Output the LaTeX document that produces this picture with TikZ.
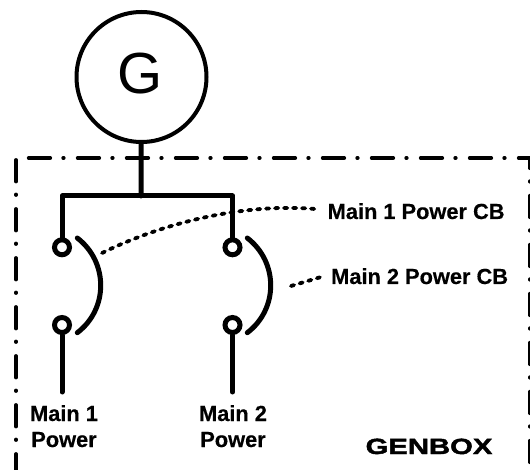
\documentclass[tikz,border=0pt]{standalone}
\usepackage{fontspec}
\setmainfont{Liberation Sans}[BoldFeatures={FakeBold=0.4}]
\newfontfamily\gbf[BoldFeatures={FakeStretch=1.33,FakeBold=2}]{Liberation Sans}
\tikzset{
  wire/.style={line width=5pt,line cap=round,line join=round},
  term/.style={circle,draw,line width=5pt,minimum size=15pt,inner sep=0pt,fill=white},
  leader/.style={line width=3.8pt,line cap=round,dash pattern=on 3.2pt off 5.8pt},
  lbl/.style={font=\fontsize{21.8}{26}\selectfont\bfseries,align=center,inner sep=0pt},
  gen/.style={circle,draw,line width=4pt,minimum size=130pt,inner sep=0pt},
  border/.style={line width=3.8pt,line cap=round,dash pattern=on 21.5pt off 13pt on 0.5pt off 14pt}
}
\begin{document}
\begin{tikzpicture}[x=1pt,y=-1pt]
\useasboundingbox (0,0) rectangle (530,470);
\coordinate (bL0) at (16,160);
\coordinate (bL1) at (16,470);
\coordinate (bT0) at (28.7,158);
\coordinate (bC) at (530,158);
\coordinate (bR1) at (530,470);
\draw[border] (bL0) -- (bL1);
\draw[border] (bT0) -- (bC) -- (bR1);
\node[gen] (G) at (141.5,77) {};
\node[inner sep=0pt,font=\fontsize{58}{58}\selectfont] (Gt) at (140.5,74) {G};
\coordinate (j) at (141,196);
\coordinate (l) at (62,196);
\coordinate (r) at (232.5,196);
\node[term] (a1) at (62,247.3) {};
\node[term] (a2) at (62,325) {};
\node[term] (b1) at (232.5,247.3) {};
\node[term] (b2) at (232.5,325) {};
\coordinate (ae) at (62,392);
\coordinate (be) at (232.5,392);
\draw[wire] (G) -- (j);
\draw[wire] (a1) -- (l) -- (r) -- (b1);
\draw[wire] (a2) -- (ae);
\draw[wire] (b2) -- (be);
\coordinate (s1a) at (77.3,238);
\coordinate (s1b) at (77.3,332.7);
\coordinate (s2a) at (247.3,238);
\coordinate (s2b) at (247.3,332.7);
\draw[wire] (s1a) .. controls (108.5,262) and (108.5,309) .. (s1b);
\draw[wire] (s2a) .. controls (278.5,262) and (278.5,309) .. (s2b);
\node[lbl,anchor=base west] (m1) at (327.5,219) {Main 1 Power CB};
\node[lbl,anchor=base west] (m2) at (331,284) {Main 2 Power CB};
\coordinate (d1) at (102,253);
\coordinate (d1e) at (315,209);
\coordinate (d2) at (291,286);
\coordinate (d2e) at (321,277);
\draw[leader] (d1) .. controls (165,222) and (245,203) .. (d1e);
\draw[leader] (d2) -- (d2e);
\node[lbl,anchor=base] (p1) at (64,421) {Main 1};
\node[lbl,anchor=base] (p1b) at (64,447) {Power};
\node[lbl,anchor=base] (p2) at (233,421) {Main 2};
\node[lbl,anchor=base] (p2b) at (233,447) {Power};
\node[inner sep=0pt,anchor=base,font=\fontsize{22}{22}\selectfont\gbf\bfseries] (gb) at (429,454) {GENBOX};
\end{tikzpicture}
\end{document}
